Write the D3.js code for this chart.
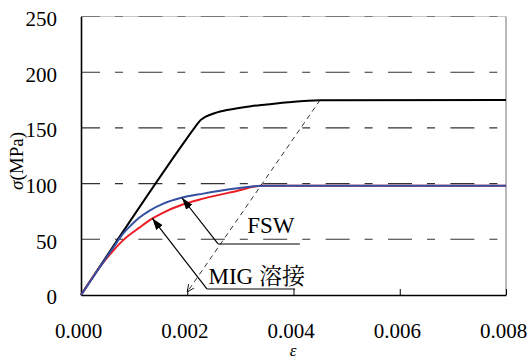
<!DOCTYPE html>
<html>
<head>
<meta charset="utf-8">
<script src="https://cdn.jsdelivr.net/npm/d3@7"></script>
<style>
  body { margin: 0; background: #fff; }
  svg { display: block; }
  text { font-family: "Liberation Serif", "Times New Roman", serif; fill: #000; }
</style>
</head>
<body>
<div id="graphArea"></div>
<script>
// strain values (x) and stress values (MPa)
var baseStrain  = [0, 0.002, 0.00215, 0.00225, 0.00247, 0.00275, 0.0032, 0.0035, 0.0039, 0.0045, 0.008]
var baseStress  = [0, 141, 151, 157, 162.5, 166, 169.5, 171, 173, 174.8, 175]
var fswStrain   = [0, 0.0006, 0.0008, 0.00095, 0.0011, 0.0013, 0.00155, 0.00187, 0.0023, 0.0029, 0.0034, 0.008]
var fswStress   = [0, 42, 55.5, 63, 69.5, 76, 82, 87, 91, 95.5, 98, 98]
var migStrain   = [0, 0.0004, 0.0006, 0.0008, 0.0011, 0.00134, 0.00155, 0.0019, 0.0023, 0.0029, 0.0034, 0.008]
var migStress   = [0, 28, 39.5, 49.5, 60.5, 68.5, 74, 81, 86.5, 93, 98, 98]
// 0.2% offset line
var offsetStrain = [0.0045, 0.002]
var offsetStress = [175, 0]

var xTicks = [0, 0.002, 0.004, 0.006, 0.008]
var yTicks = [0, 50, 100, 150, 200, 250]
var gridValues = [50, 100, 150, 200, 250]

// annotations: text, underline start, underline end, arrow tip, text position
var labelNames  = ["FSW", "MIG 溶接"]
var labelAnchor = [[0.00258, 45.8], [0.00237, 5.4]]
var labelEnd    = [[0.00412, 45.8], [0.00403, 5.4]]
var labelTip    = [[0.0019, 87.3], [0.00134, 69]]
var labelText   = [[0.00313, 55.5], [0.0024, 9.5]]

var margin = { top: 16.5, left: 81, bottom: 65, right: 23 }
var W = 529, H = 360
var width = W - margin.left - margin.right
var height = H - margin.top - margin.bottom
var serif = "'Liberation Serif', 'Times New Roman', serif"

var svg = d3.select("#graphArea").append("svg")
  .attr("width", W).attr("height", H)

var defs = svg.append("defs")
defs.append("marker")
  .attr("id", "head")
  .attr("viewBox", "0 0 12 8")
  .attr("refX", 12).attr("refY", 4)
  .attr("markerWidth", 12).attr("markerHeight", 8)
  .attr("markerUnits", "userSpaceOnUse")
  .attr("orient", "auto")
  .append("path").attr("d", "M0,0 L12,4 L0,8 Z").attr("fill", "#000")
defs.append("marker")
  .attr("id", "vee")
  .attr("viewBox", "0 0 8 8")
  .attr("refX", 7.5).attr("refY", 4)
  .attr("markerWidth", 8).attr("markerHeight", 8)
  .attr("markerUnits", "userSpaceOnUse")
  .attr("orient", "auto")
  .append("path").attr("d", "M0,0.5 L7.5,4 L0,7.5").attr("fill", "none").attr("stroke", "#000").attr("stroke-width", 0.8)

var g = svg.append("g")
  .attr("transform", "translate(" + margin.left + "," + margin.top + ")")

var x = d3.scaleLinear().domain([0, 0.008]).range([0, width])
var y = d3.scaleLinear().domain([0, 250]).range([height, 0])

// frame (top and right in light gray)
g.append("line").attr("x1", 0).attr("x2", width).attr("y1", y(250)).attr("y2", y(250))
  .attr("stroke", "#c8c8c8").attr("stroke-width", 1)
g.append("line").attr("x1", width).attr("x2", width).attr("y1", 0).attr("y2", height)
  .attr("stroke", "#8a8a8a").attr("stroke-width", 1.2)

// dashed grid
g.selectAll(".grid").data(gridValues).enter().append("line")
  .attr("class", "grid")
  .attr("x1", 0).attr("x2", width)
  .attr("y1", function(d) { return y(d) }).attr("y2", function(d) { return y(d) })
  .attr("stroke", function(d) { return d == 250 ? "#777" : "#333" })
  .attr("stroke-width", 1.1)
  .attr("stroke-dasharray", "24,15,8,15.4")
  .attr("stroke-dashoffset", 5)

// axes
var xAxis = d3.axisBottom(x).tickValues(xTicks).tickFormat(d3.format(".3f"))
  .tickSizeInner(-6).tickSizeOuter(0).tickPadding(28)
var gx = g.append("g").attr("transform", "translate(0," + height + ")").call(xAxis)
  .attr("font-family", serif)
gx.selectAll("text").attr("font-size", 21).attr("dx", "-3").style("font-family", serif)
gx.select(".domain").attr("stroke", "#000").attr("stroke-width", 1.6)
gx.selectAll(".tick line").attr("stroke", "#000").attr("stroke-width", 1)

var yAxis = d3.axisLeft(y).tickValues(yTicks).tickSize(0).tickPadding(24)
var gy = g.append("g").call(yAxis).attr("font-family", serif)
gy.selectAll("text").attr("font-size", 21).attr("dy", "0.42em").style("font-family", serif)
gy.select(".domain").attr("stroke", "#000").attr("stroke-width", 1.6)

// curves
function series(xs, ys) { return xs.map(function(v, i) { return [v, ys[i]] }) }
var line = d3.line()
  .x(function(d) { return x(d[0]) })
  .y(function(d) { return y(d[1]) })
  .curve(d3.curveMonotoneX)

g.append("path").datum(series(baseStrain, baseStress)).attr("d", line)
  .attr("fill", "none").attr("stroke", "#000").attr("stroke-width", 2)
g.append("path").datum(series(migStrain, migStress)).attr("d", line)
  .attr("fill", "none").attr("stroke", "#ed1c24").attr("stroke-width", 2)
g.append("path").datum(series(fswStrain, fswStress)).attr("d", line)
  .attr("fill", "none").attr("stroke", "#3550a2").attr("stroke-width", 2)

// offset line
g.append("path").datum(series(offsetStrain, offsetStress))
  .attr("d", d3.line().x(function(d) { return x(d[0]) }).y(function(d) { return y(d[1]) + (d[1] == 0 ? -3 : 0) }))
  .attr("fill", "none").attr("stroke", "#000").attr("stroke-width", 0.8)
  .attr("stroke-dasharray", "5,4")
  .attr("marker-end", "url(#vee)")

// annotations
labelNames.forEach(function(name, i) {
  var a = labelAnchor[i], e = labelEnd[i], t = labelTip[i], p = labelText[i]
  g.append("line")
    .attr("x1", x(a[0])).attr("y1", y(a[1])).attr("x2", x(e[0])).attr("y2", y(e[1]))
    .attr("stroke", "#000").attr("stroke-width", 1.2)
  g.append("line")
    .attr("x1", x(a[0])).attr("y1", y(a[1])).attr("x2", x(t[0])).attr("y2", y(t[1]))
    .attr("stroke", "#000").attr("stroke-width", 1.2)
    .attr("marker-end", "url(#head)")
  g.append("text").attr("x", x(p[0])).attr("y", y(p[1]))
    .attr("font-size", 23)
    .style("font-family", "'Liberation Serif', 'Noto Serif CJK JP', 'Noto Sans CJK JP', serif")
    .text(name)
})

// axis titles
var yt = svg.append("text")
  .attr("transform", "translate(23," + 161 + ") rotate(-90)")
  .attr("text-anchor", "middle").attr("font-size", 19)
yt.append("tspan").attr("font-style", "italic").text("σ")
yt.append("tspan").text("(MPa)")

svg.append("text").attr("x", 293).attr("y", 356)
  .attr("text-anchor", "middle").attr("font-size", 17).attr("font-style", "italic")
  .text("ε")
</script>
</body>
</html>
